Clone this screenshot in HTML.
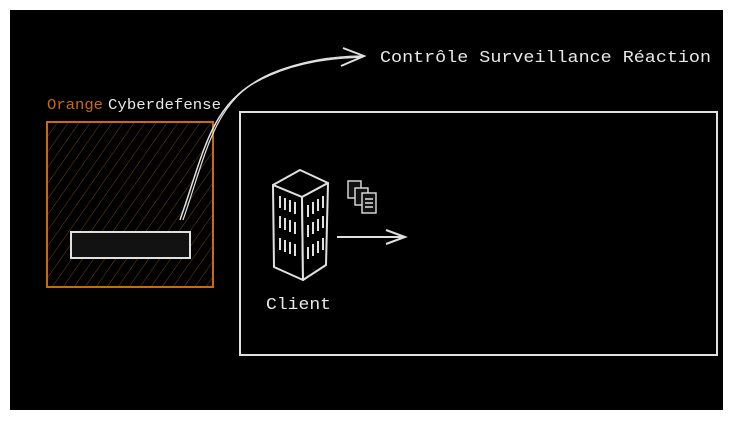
<!DOCTYPE html>
<html><head><style>
html,body{margin:0;padding:0;background:#fff;width:733px;height:421px;overflow:hidden}
svg{display:block}
text{font-family:"Liberation Mono","DejaVu Sans Mono",monospace}
</style></head><body>
<svg width="733" height="421" viewBox="0 0 733 421">
<defs>
<pattern id="h" patternUnits="userSpaceOnUse" width="9" height="9" patternTransform="rotate(35)">
<line x1="0" y1="0" x2="0" y2="9" stroke="#6a440e" stroke-width="1"/>
</pattern>
</defs>
<rect x="10" y="10" width="713" height="400" fill="#000"/>
<rect x="47" y="122" width="166" height="165" fill="url(#h)" stroke="#c96a0c" stroke-width="2"/>
<text x="47" y="109" font-size="15" fill="#c96a0c" textLength="56" lengthAdjust="spacingAndGlyphs">Orange</text>
<text x="108" y="109" font-size="15" fill="#e8e8e8" textLength="113" lengthAdjust="spacingAndGlyphs">Cyberdefense</text>
<rect x="71" y="232" width="119" height="26" fill="#121212" stroke="#e0e0e0" stroke-width="2"/>
<path d="M180 220 C205 150,210 100,270 75 C300 62,330 58,363 57" fill="none" stroke="#e0e0e0" stroke-width="1.5"/>
<path d="M183 220 C208 148,214 98,272 73 C302 61,332 56,363 56" fill="none" stroke="#e0e0e0" stroke-width="1.2"/>
<path d="M343 48 L364 56 L341 66" fill="none" stroke="#e0e0e0" stroke-width="2"/>
<text x="380" y="62" font-size="17" fill="#e8e8e8" textLength="331" lengthAdjust="spacingAndGlyphs">Contrôle Surveillance Réaction</text>
<rect x="240" y="112" width="477" height="243" fill="none" stroke="#e0e0e0" stroke-width="2"/>
<g stroke="#e0e0e0" stroke-width="2" fill="#000" stroke-linejoin="round">
<path d="M273 185 L300 170 L328 183 L302 197 Z"/>
<path d="M273 185 L302 197 L303 280 L274 267 Z"/>
<path d="M302 197 L328 183 L326 265 L303 280 Z"/>
</g>
<g stroke="#e0e0e0" stroke-width="2">
<path d="M280 196v12M285 198v12M290 200v12M295 202v12M280 216v12M285 218v12M290 220v12M295 222v12M280 238v12M285 240v12M290 242v12M295 244v12"/>
<path d="M308 205v12M313 202v12M318 199v12M323 196v12M308 225v12M313 222v12M318 219v12M323 216v12M308 247v12M313 244v12M318 241v12M323 238v12"/>
</g>
<g stroke="#e0e0e0" stroke-width="1.4" fill="#111">
<rect x="348" y="181" width="13" height="17"/>
<rect x="355" y="188" width="13" height="17"/>
<rect x="362" y="193" width="14" height="20"/>
<path d="M365 199h8M365 203h8M365 207h8" />
</g>
<path d="M337 237 L405 237 M386 230 L405 237 L386 244" fill="none" stroke="#e0e0e0" stroke-width="2"/>
<text x="266" y="309" font-size="17" fill="#e8e8e8" textLength="65" lengthAdjust="spacingAndGlyphs">Client</text>
</svg>
</body></html>
